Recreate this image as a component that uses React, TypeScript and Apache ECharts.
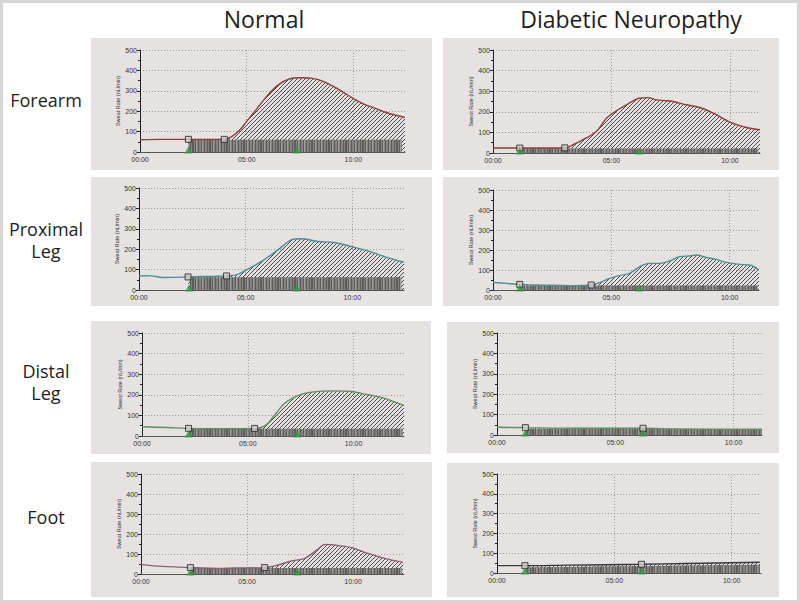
import React, { useEffect, useRef } from "react";
import * as echarts from "echarts";

// ---- texts ----
const columnTitles = ["Normal", "Diabetic Neuropathy"];
const rowLabels = [["Forearm"], ["Proximal", "Leg"], ["Distal", "Leg"], ["Foot"]];
const xTickLabels = ["00:00", "05:00", "10:00"];
const yAxisName = "Sweat Rate (nL/min)";

// ---- data (minutes, nL/min) ----
// Normal forearm
const nForeT = [0, 1, 2.27, 3.0, 3.95, 4.3, 4.7, 5.0, 5.5, 6.0, 6.5, 7.0, 7.5, 8.0, 8.5, 9.0, 9.5, 10.0, 10.5, 11.0, 11.5, 12.0, 12.42];
const nForeV = [60, 62, 62, 62, 63, 75, 110, 150, 215, 280, 330, 358, 364, 362, 350, 325, 295, 262, 235, 215, 195, 180, 170];
const nForeSqT = [2.27, 3.95];
const nForeSqV = [62, 62];
const nForeTriT = [2.27, 7.34];
const nForeStT = [2.27, 12.27];
const nForeStV = [60, 60];

// Diabetic forearm
const dForeT = [0, 1.13, 2.0, 3.03, 3.38, 3.94, 4.37, 4.79, 5.21, 5.63, 6.17, 6.55, 6.9, 7.3, 7.6, 8.17, 8.73, 9.3, 10.0, 10.7, 11.27];
const dForeV = [24, 24, 24, 25, 40, 73, 105, 169, 205, 234, 266, 269, 258, 254, 250, 234, 221, 194, 150, 124, 113];
const dForeSqT = [1.13, 3.03];
const dForeSqV = [24, 25];
const dForeTriT = [1.13, 6.17];
const dForeStT = [1.13, 11.2];
const dForeStV = [22, 22];

// Normal proximal leg
const nProxT = [0, 0.58, 1.2, 1.67, 2.3, 2.92, 3.5, 4.1, 4.56, 5.03, 5.73, 6.52, 7.14, 7.61, 8.39, 9.17, 9.95, 10.73, 11.5, 12.42];
const nProxV = [70, 69, 61, 62, 64, 66, 67, 69, 74, 98, 139, 197, 246, 251, 238, 233, 213, 192, 164, 136];
const nProxSqT = [2.3, 4.1];
const nProxSqV = [64, 69];
const nProxTriT = [2.35, 7.38];
const nProxStT = [2.38, 12.3];
const nProxStV = [62, 62];

// Diabetic proximal leg
const dProxT = [0, 0.56, 1.13, 1.97, 2.82, 3.38, 4.15, 4.5, 4.93, 5.35, 5.77, 6.2, 6.62, 7.04, 7.46, 7.89, 8.31, 8.59, 9.01, 9.44, 9.86, 10.42, 10.85, 11.24];
const dProxV = [38, 33, 28, 25, 23, 22, 25, 37, 58, 72, 83, 117, 133, 133, 145, 167, 170, 175, 163, 153, 138, 128, 125, 100];
const dProxSqT = [1.13, 4.15];
const dProxSqV = [28, 25];
const dProxTriT = [1.13, 6.17];
const dProxStT = [1.13, 11.2];
const dProxStV = [22, 22];

// Normal distal leg
const nDistT = [0, 1.23, 2.2, 3.59, 5.32, 5.87, 6.27, 6.74, 7.37, 8.0, 9.1, 9.89, 10.68, 11.46, 12.38];
const nDistV = [45, 41, 37, 36, 37, 54, 102, 159, 196, 213, 219, 216, 200, 183, 148];
const nDistSqT = [2.2, 5.32];
const nDistSqV = [37, 37];
const nDistTriT = [2.2, 7.32];
const nDistStT = [2.2, 12.3];
const nDistStV = [35, 35];

// Diabetic distal leg
const dDistT = [0, 1.2, 3.24, 6.17, 7.46, 11.2];
const dDistV = [38, 36, 33, 33, 30, 28];
const dDistSqT = [1.2, 6.17];
const dDistSqV = [36, 33];
const dDistTriT = [1.2, 6.17];
const dDistStT = [1.2, 11.2];
const dDistStV = [30, 28];

// Normal foot
const nFootT = [0, 0.49, 1.27, 2.33, 3.63, 4.42, 5.83, 6.46, 7.09, 7.72, 8.35, 8.66, 9.13, 9.92, 10.7, 11.49, 12.36];
const nFootV = [48, 42, 37, 32, 28, 30, 32, 45, 65, 78, 125, 148, 145, 132, 103, 78, 58];
const nFootSqT = [2.33, 5.83];
const nFootSqV = [32, 32];
const nFootTriT = [2.33, 7.37];
const nFootStT = [2.33, 12.3];
const nFootStV = [30, 30];

// Diabetic foot
const dFootT = [0, 1.19, 3.0, 6.16, 8.0, 11.2];
const dFootV = [37, 37, 40, 44, 48, 54];
const dFootSqT = [1.19, 6.16];
const dFootSqV = [37, 44];
const dFootTriT = [1.19, 6.16];
const dFootStT = [1.19, 11.2];
const dFootStV = [28, 42];

// x-axis extents (minutes shown per panel)
const xMaxes = [12.42, 11.27, 12.42, 11.24, 12.38, 11.2, 12.4, 11.25];

const panelsData = [
  [nForeT, nForeV, nForeSqT, nForeSqV, nForeTriT, nForeStT, nForeStV],
  [dForeT, dForeV, dForeSqT, dForeSqV, dForeTriT, dForeStT, dForeStV],
  [nProxT, nProxV, nProxSqT, nProxSqV, nProxTriT, nProxStT, nProxStV],
  [dProxT, dProxV, dProxSqT, dProxSqV, dProxTriT, dProxStT, dProxStV],
  [nDistT, nDistV, nDistSqT, nDistSqV, nDistTriT, nDistStT, nDistStV],
  [dDistT, dDistV, dDistSqT, dDistSqV, dDistTriT, dDistStT, dDistStV],
  [nFootT, nFootV, nFootSqT, nFootSqV, nFootTriT, nFootStT, nFootStV],
  [dFootT, dFootV, dFootSqT, dFootSqV, dFootTriT, dFootStT, dFootStV],
];

// ---- layout & style ----
const lineColors = ["#8b3f3f", "#8b3f3f", "#4f8f8f", "#4f8f8f", "#5e8f5e", "#5e8f5e", "#8d5f70", "#3a3a3a"];
const gridBoxes = [
  [140, 50, 265, 102],
  [493, 50, 267, 103],
  [139, 188, 265, 102],
  [493, 190, 266, 100],
  [142, 333, 262, 103],
  [497, 333, 265, 102],
  [141, 474, 263, 100],
  [497, 474, 264, 99],
];
const panelRects = [
  [91, 38, 341, 132],
  [443, 38, 336, 132],
  [91, 177, 341, 129],
  [443, 177, 336, 129],
  [91, 321, 340, 133],
  [447, 322, 332, 131],
  [91, 462, 341, 135],
  [447, 463, 332, 134],
];
const titlePos = [[264, 19], [631, 19]];
const rowLabelPos = [[46, 100], [46, 229], [46, 371], [46, 517]];
const ROW_LINE_GAP = 22;
const PANEL_BG = "#e7e2e2";

function makeHatch(): HTMLCanvasElement {
  const c = document.createElement("canvas");
  c.width = 4;
  c.height = 4;
  const g = c.getContext("2d")!;
  g.strokeStyle = "#4a4a4a";
  g.lineWidth = 1;
  g.beginPath();
  g.moveTo(-1, 5);
  g.lineTo(5, -1);
  g.moveTo(-1, 1);
  g.lineTo(1, -1);
  g.moveTo(3, 5);
  g.lineTo(5, 3);
  g.stroke();
  return c;
}

function makeStripes(): HTMLCanvasElement {
  const c = document.createElement("canvas");
  c.width = 17;
  c.height = 4;
  const g = c.getContext("2d")!;
  g.fillStyle = "#5f5c5c";
  [0, 3, 5, 6, 8, 11, 14].forEach((x) => g.fillRect(x, 0, 1, 4));
  g.fillStyle = "#a19e9e";
  [9, 15].forEach((x) => g.fillRect(x, 0, 1, 4));
  return c;
}

export default function App() {
  const ref = useRef<HTMLDivElement>(null);
  useEffect(() => {
    if (!ref.current) return;
    const chart = echarts.init(ref.current, null, { renderer: "svg" });
    const hatch = { image: makeHatch(), repeat: "repeat", imageWidth: 4, imageHeight: 4 };
    const stripes = { image: makeStripes(), repeat: "repeat", imageWidth: 17, imageHeight: 4 };

    const grids: any[] = [];
    const xAxes: any[] = [];
    const yAxes: any[] = [];
    const series: any[] = [];
    const tickFont = "Liberation Sans";

    panelsData.forEach((p, i) => {
      const [t, v, sqT, sqV, triT, stT, stV] = p as number[][];
      const [l, tp, w, h] = gridBoxes[i];
      grids.push({ left: l, top: tp, width: w, height: h, containLabel: false });
      xAxes.push({
        type: "value",
        gridIndex: i,
        min: 0,
        max: xMaxes[i],
        interval: 5,
        axisLine: { show: true, lineStyle: { color: "#555", width: 1 } },
        axisTick: { show: false },
        axisLabel: {
          fontSize: 7,
          color: "#333",
          fontFamily: tickFont,
          margin: 4,
          formatter: (val: number) => {
            const k = Math.round(val / 5);
            return Math.abs(val - k * 5) < 1e-6 ? xTickLabels[k] ?? "" : "";
          },
        },
        splitLine: {
          show: true,
          showMinLine: false,
          showMaxLine: false,
          lineStyle: { color: "#9a9a9a", type: [1, 2], width: 1 },
        },
      });
      yAxes.push({
        type: "value",
        gridIndex: i,
        min: 0,
        max: 500,
        interval: 100,
        name: yAxisName,
        nameLocation: "middle",
        nameGap: 17,
        nameTextStyle: { fontSize: 5.5, color: "#333", fontFamily: tickFont },
        axisLine: { show: true, lineStyle: { color: "#222", width: 1 } },
        axisTick: { show: true, length: 3, lineStyle: { color: "#222" } },
        minorTick: { show: true, splitNumber: 2, length: 2, lineStyle: { color: "#222" } },
        axisLabel: { fontSize: 7, color: "#333", fontFamily: tickFont, margin: 3 },
        splitLine: {
          show: true,
          showMinLine: false,
          lineStyle: { color: "#9a9a9a", type: [1, 2], width: 1 },
        },
      });
      const curve = t.map((x, k) => [x, v[k]]);
      const hatchData = curve.filter((d) => d[0] >= sqT[0] - 1e-6);
      const stripeData = stT.map((x, k) => [x, stV[k]]);
      series.push({
        type: "line",
        xAxisIndex: i,
        yAxisIndex: i,
        data: hatchData,
        smooth: 0.3,
        symbol: "none",
        lineStyle: { width: 0, opacity: 0 },
        areaStyle: { color: hatch, opacity: 1 },
        z: 2,
        silent: true,
      });
      // solid grey base of the striped band
      series.push({
        type: "line",
        xAxisIndex: i,
        yAxisIndex: i,
        data: stripeData,
        symbol: "none",
        lineStyle: { width: 0, opacity: 0 },
        areaStyle: { color: "#858282", opacity: 1 },
        z: 3,
        silent: true,
      });
      // vertical stripe texture
      series.push({
        type: "line",
        xAxisIndex: i,
        yAxisIndex: i,
        data: stripeData,
        symbol: "none",
        lineStyle: { width: 0, opacity: 0 },
        areaStyle: { color: stripes, opacity: 1 },
        z: 3,
        silent: true,
      });
      series.push({
        type: "line",
        xAxisIndex: i,
        yAxisIndex: i,
        data: curve,
        smooth: 0.3,
        symbol: "none",
        lineStyle: { color: lineColors[i], width: 1.4 },
        z: 4,
        silent: true,
      });
      series.push({
        type: "scatter",
        xAxisIndex: i,
        yAxisIndex: i,
        data: sqT.map((x, k) => [x, sqV[k]]),
        symbol: "rect",
        symbolSize: 6,
        clip: false,
        itemStyle: { color: "#cfcaca", borderColor: "#222", borderWidth: 1 },
        z: 6,
        silent: true,
      });
      series.push({
        type: "scatter",
        xAxisIndex: i,
        yAxisIndex: i,
        data: triT.map((x) => [x, 0]),
        symbol: "triangle",
        symbolSize: [8, 7],
        symbolOffset: [0, -2],
        clip: false,
        itemStyle: { color: "#2e9a3e" },
        z: 6,
        silent: true,
      });
    });

    const graphics: any[] = [
      {
        type: "rect",
        z: -20,
        shape: { x: 1.5, y: 1.5, width: 797, height: 600 },
        style: { fill: "#ffffff", stroke: "#d6d6d6", lineWidth: 3 },
        silent: true,
      },
    ];
    panelRects.forEach(([x, y, w, h]) => {
      graphics.push({
        type: "rect",
        z: -10,
        shape: { x, y, width: w, height: h },
        style: { fill: PANEL_BG },
        silent: true,
      });
    });
    columnTitles.forEach((txt, k) => {
      graphics.push({
        type: "text",
        z: 10,
        x: titlePos[k][0],
        y: titlePos[k][1],
        style: {
          text: txt,
          fill: "#1e1e1e",
          font: '23px "Open Sans"',
          align: "center",
          verticalAlign: "middle",
          textAlign: "center",
          textVerticalAlign: "middle",
        },
        silent: true,
      });
    });
    rowLabels.forEach((lines, k) => {
      lines.forEach((txt, j) => {
        graphics.push({
          type: "text",
          z: 10,
          x: rowLabelPos[k][0],
          y: rowLabelPos[k][1] + j * ROW_LINE_GAP,
          style: {
            text: txt,
            fill: "#1e1e1e",
            font: '18px "Open Sans"',
            lineHeight: 18,
            align: "center",
            verticalAlign: "middle",
            textAlign: "center",
            textVerticalAlign: "middle",
          },
          silent: true,
        });
      });
    });

    chart.setOption({
      animation: false,
      backgroundColor: "#ffffff",
      grid: grids,
      xAxis: xAxes,
      yAxis: yAxes,
      series,
      graphic: { elements: graphics },
    });
    return () => chart.dispose();
  }, []);
  return (
    <div
      ref={ref}
      style={{ position: "absolute", left: 0, top: 0, width: 800, height: 603 }}
    />
  );
}
